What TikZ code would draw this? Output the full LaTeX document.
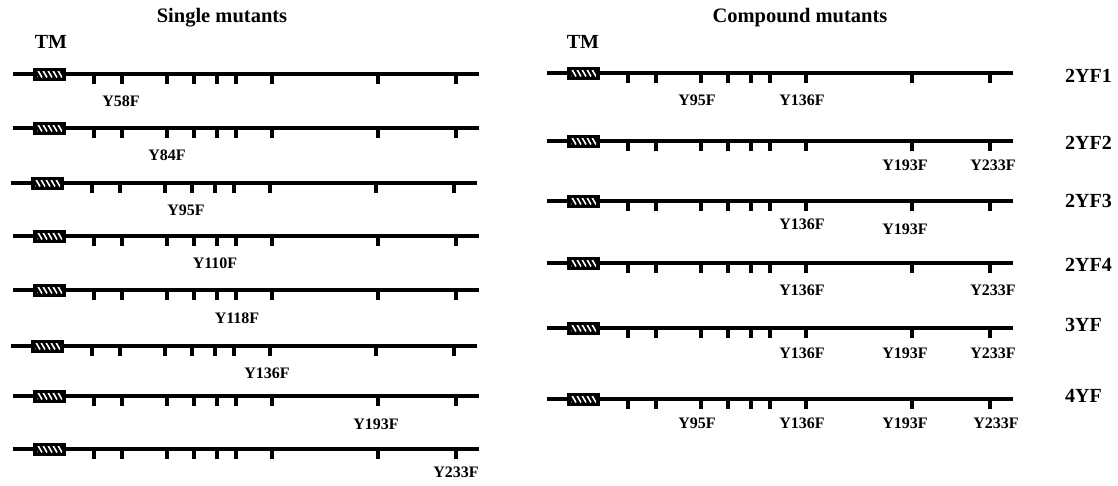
\documentclass[tikz,border=0pt]{standalone}
\usepackage{fontspec}
\setmainfont{Liberation Serif}
\begin{document}
\begin{tikzpicture}[x=1pt,y=-1pt,
  backbone/.style={line width=3.6pt},
  site/.style={line width=3.2pt},
  lbl/.style={font=\fontsize{16}{18}\selectfont\bfseries, inner sep=0pt},
  big/.style={font=\fontsize{20}{22}\selectfont\bfseries, inner sep=0pt},
  ttl/.style={font=\fontsize{20.5}{22}\selectfont\bfseries, inner sep=0pt}]
\useasboundingbox (0,0) rectangle (1118,485);

% one protein: backbone, TM box and tyrosine sites; #1 = left end, #2 = baseline
\newcommand\proteinrow[2]{%
  \begin{scope}[shift={(#1,#2)}]
    \draw[backbone] (0,0) -- (466,0);
    \foreach \t in {81,109,154,181,204,223,259,365,443}
      \draw[site] (\t,0) -- (\t,9.5);
    \fill (20,-6.5) rectangle (53,6.5);
    \begin{scope}
      \clip (24,-3) rectangle (49,3);
      \foreach \h in {20,25,...,50}
        \draw[white, line width=1.6pt] (\h,-3.5) -- (\h+4,3.5);
    \end{scope}
  \end{scope}}

% titles
\node[ttl] (tSingle) at (222,18) {Single mutants};
\node[ttl] (tCompound) at (800,18) {Compound mutants};
\node[big] (tmL) at (51,42) {TM};
\node[big] (tmR) at (583,42) {TM};

% single mutants
\proteinrow{13}{74}
\proteinrow{13}{128}
\proteinrow{11}{183}
\proteinrow{13}{236}
\proteinrow{13}{290}
\proteinrow{11}{346}
\proteinrow{13}{396}
\proteinrow{13}{449}
\node[lbl] (s1) at (121,101) {Y58F};
\node[lbl] (s2) at (167,155) {Y84F};
\node[lbl] (s3) at (186,210) {Y95F};
\node[lbl] (s4) at (215,263) {Y110F};
\node[lbl] (s5) at (237,318) {Y118F};
\node[lbl] (s6) at (267,373) {Y136F};
\node[lbl] (s7) at (376,424) {Y193F};
\node[lbl] (s8) at (456,472) {Y233F};

% compound mutants
\proteinrow{547}{73}
\proteinrow{547}{141}
\proteinrow{547}{201}
\proteinrow{547}{263}
\proteinrow{547}{328}
\proteinrow{547}{399}

\node[big, anchor=west] (c1) at (1065,76) {2YF1};
\node[big, anchor=west] (c2) at (1065,143) {2YF2};
\node[big, anchor=west] (c3) at (1065,201) {2YF3};
\node[big, anchor=west] (c4) at (1065,265) {2YF4};
\node[big, anchor=west] (c5) at (1065,325) {3YF};
\node[big, anchor=west] (c6) at (1065,396) {4YF};

\node[lbl] (c1a) at (697,100) {Y95F};
\node[lbl] (c1b) at (802,100) {Y136F};
\node[lbl] (c2a) at (905,165) {Y193F};
\node[lbl] (c2b) at (993,165) {Y233F};
\node[lbl] (c3a) at (802,224) {Y136F};
\node[lbl] (c3b) at (905,229) {Y193F};
\node[lbl] (c4a) at (802,290) {Y136F};
\node[lbl] (c4b) at (993,290) {Y233F};
\node[lbl] (c5a) at (802,353) {Y136F};
\node[lbl] (c5b) at (905,353) {Y193F};
\node[lbl] (c5c) at (993,353) {Y233F};
\node[lbl] (c6a) at (697,423) {Y95F};
\node[lbl] (c6b) at (802,423) {Y136F};
\node[lbl] (c6c) at (905,423) {Y193F};
\node[lbl] (c6d) at (996,423) {Y233F};
\end{tikzpicture}
\end{document}
